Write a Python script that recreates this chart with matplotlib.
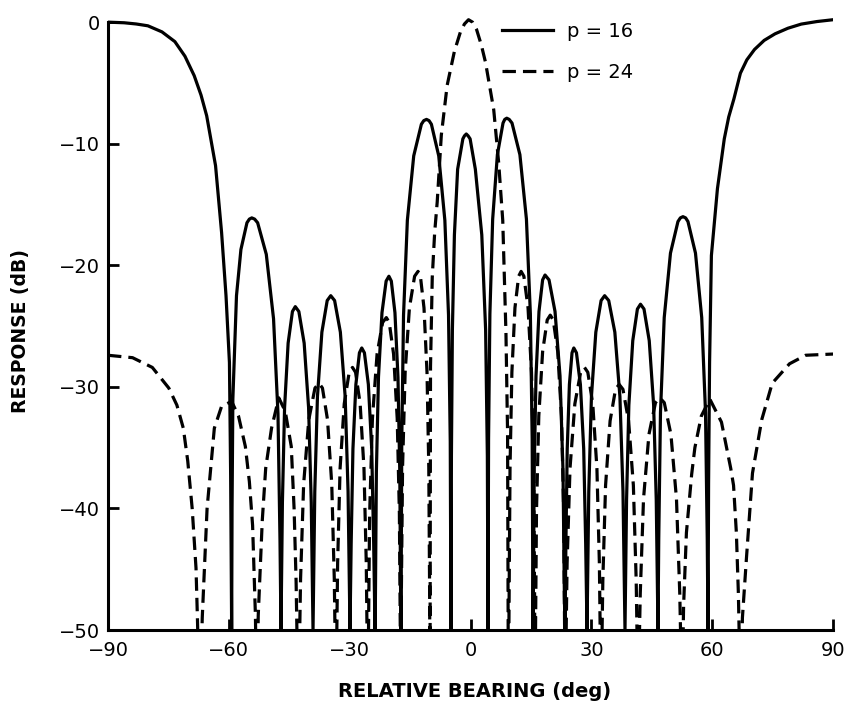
import numpy as np
import matplotlib.pyplot as plt

# Axis ticks and legend labels
bearing_ticks = [-90, -60, -30, 0, 30, 60, 90]
response_ticks = [0, -10, -20, -30, -40, -50]
series_labels = ['p = 16', 'p = 24']

# Beam pattern: (relative bearing deg, response dB)
# p = 16 (solid)
p16 = np.array([
    (-90.0, 0.0), (-86.0, -0.05), (-83.0, -0.15), (-80.1, -0.3), (-76.6, -0.8), (-73.4, -1.6),
    (-70.9, -2.8), (-68.6, -4.4), (-66.9, -6.0), (-65.5, -7.7),
    (-63.3, -11.8), (-61.8, -17.3), (-60.7, -22.5), (-59.85, -28.0), (-59.55, -37.3), (-59.3, -50.0),
    (-59.2, -40.0), (-59.0, -31.0), (-58.1, -22.5), (-57.0, -18.7), (-55.5, -16.5), (-54.9, -16.2),
    (-54.3, -16.1), (-53.6, -16.2),
    (-52.85, -16.5), (-50.7, -19.1), (-48.9, -24.4), (-47.8, -32.2), (-47.3, -42.6), (-47.05, -50.0),
    (-46.7, -39.5), (-46.16, -31.7), (-45.28, -26.4), (-44.21, -23.8), (-43.5, -23.4),
    (-42.62, -23.8), (-41.3, -26.4), (-40.2, -31.7), (-39.54, -39.5), (-39.1, -50.0),
    (-38.66, -38.6), (-38.0, -30.8), (-36.9, -25.5), (-35.58, -22.9), (-34.7, -22.5),
    (-33.74, -22.9), (-32.31, -25.5), (-31.12, -30.8), (-30.4, -38.6), (-29.92, -50.0),
    (-29.63, -42.9), (-29.19, -35.1), (-28.46, -29.8), (-27.58, -27.2), (-27.0, -26.8),
    (-26.34, -27.2), (-25.36, -29.8), (-24.53, -35.1), (-24.04, -42.9), (-23.71, -50.0),
    (-23.61, -47.4), (-23.37, -37.0), (-22.85, -29.2), (-21.98, -23.9), (-20.95, -21.3), (-20.26, -20.9),
    (-19.66, -21.3), (-18.76, -23.9), (-18.01, -29.2), (-17.56, -37.0), (-17.35, -47.4), (-17.26, -50.0),
    (-17.07, -34.5), (-16.63, -24.1), (-15.68, -16.3), (-14.1, -11.0), (-12.2, -8.4), (-11.6, -8.1),
    (-10.93, -8.0), (-10.3, -8.1),
    (-9.71, -8.4), (-7.89, -11.0), (-6.37, -16.3), (-5.46, -24.1), (-5.03, -34.5), (-4.85, -50.0),
    (-4.74, -35.7), (-4.5, -25.3), (-4.0, -17.5), (-3.2, -12.1), (-1.9, -9.6), (-1.5, -9.35),
    (-1.05, -9.2), (-0.6, -9.35),
    (-0.1, -9.6), (1.2, -12.1), (2.8, -17.5), (3.75, -25.3), (4.18, -35.7), (4.34, -50.0),
    (4.48, -34.3), (4.81, -24.0), (5.5, -16.2), (6.67, -10.9), (8.07, -8.3), (8.5, -8.0),
    (9.0, -7.9), (9.6, -8.0),
    (10.3, -8.3), (12.26, -10.9), (13.88, -16.2), (14.86, -24.0), (15.31, -34.3), (15.51, -50.0),
    (15.6, -47.3), (15.81, -36.9), (16.26, -29.1), (17.0, -23.8), (17.9, -21.2), (18.5, -20.8),
    (19.49, -21.2), (20.98, -23.8), (22.22, -29.1), (22.96, -36.9), (23.31, -47.3), (23.46, -50.0),
    (23.68, -42.9), (24.01, -35.1), (24.55, -29.8), (25.2, -27.2), (25.64, -26.8),
    (26.3, -27.2), (27.28, -29.8), (28.1, -35.1), (28.59, -42.9), (28.92, -50.0),
    (29.36, -38.6), (30.02, -30.8), (31.11, -25.5), (32.42, -22.9), (33.3, -22.5),
    (34.31, -22.9), (35.83, -25.5), (37.09, -30.8), (37.85, -38.6), (38.35, -50.0),
    (38.74, -39.3), (39.31, -31.5), (40.28, -26.2), (41.43, -23.6), (42.2, -23.2),
    (43.07, -23.6), (44.37, -26.2), (45.46, -31.5), (46.11, -39.3), (46.54, -50.0),
    (46.73, -42.5), (47.16, -32.1), (48.09, -24.3), (49.64, -19.0), (51.5, -16.4), (52.1, -16.1),
    (52.74, -16.0), (53.4, -16.1),
    (53.98, -16.4), (55.85, -19.0), (57.4, -24.3), (58.34, -32.1), (58.77, -42.5), (58.96, -50.0),
    (59.1, -38.0), (59.35, -28.0), (59.8, -19.2), (61.3, -13.7), (63.0, -9.6), (64.1, -7.8),
    (65.4, -6.3), (67.0, -4.2), (68.6, -3.1), (70.5, -2.25), (72.9, -1.5), (75.6, -0.96),
    (78.8, -0.5), (82.1, -0.16), (86.0, 0.05), (90.0, 0.2),
])

# p = 24 (dashed); nulls fall below the -50 dB floor
p24 = np.array([
    (-90.0, -27.4), (-83.9, -27.6), (-79.0, -28.4), (-74.9, -30.1), (-72.9, -31.5), (-71.3, -33.4),
    (-70.2, -36.1), (-69.1, -40.0), (-68.15, -44.9), (-67.8, -49.0), (-67.2, -57.0),
    (-66.6, -49.0), (-65.4, -40.0), (-64.5, -36.7), (-63.6, -33.4), (-61.8, -31.6), (-59.3, -31.2),
    (-57.6, -32.4), (-55.9, -34.9), (-54.9, -37.8), (-54.1, -41.4), (-53.4, -48.8), (-53.05, -57.0),
    (-52.7, -48.8), (-51.7, -41.0), (-50.85, -36.7), (-49.4, -33.4), (-47.6, -30.9),
    (-46.0, -32.0), (-44.5, -34.9), (-43.8, -40.0), (-43.3, -46.0), (-42.75, -57.0),
    (-42.19, -45.8), (-41.43, -38.0), (-40.15, -32.7), (-38.62, -30.1), (-37.6, -29.7),
    (-36.76, -30.1), (-35.5, -32.7), (-34.45, -38.0), (-33.82, -45.8), (-33.4, -56.0),
    (-32.99, -44.5), (-32.38, -36.7), (-31.35, -31.4), (-30.12, -28.8), (-29.3, -28.4),
    (-28.54, -28.8), (-27.4, -31.4), (-26.45, -36.7), (-25.88, -44.5), (-25.5, -56.0),
    (-25.04, -40.4), (-24.35, -32.6), (-23.2, -27.3), (-21.82, -24.7), (-20.9, -24.3),
    (-20.18, -24.7), (-19.1, -27.3), (-18.2, -32.6), (-17.66, -40.4), (-17.3, -56.0),
    (-17.17, -47.0), (-16.87, -36.6), (-16.23, -28.8), (-15.17, -23.5), (-13.88, -20.9), (-13.03, -20.5),
    (-12.44, -20.9), (-11.55, -23.5), (-10.8, -28.8), (-10.36, -36.6), (-10.15, -47.0), (-10.06, -56.0),
    (-9.98, -40.0), (-9.93, -28.3), (-9.5, -21.0), (-8.9, -17.3), (-8.27, -14.8), (-7.25, -9.3),
    (-5.8, -5.2), (-4.0, -2.4), (-2.5, -0.8), (-1.5, -0.15), (-0.5, 0.2), (0.5, 0.0), (1.5, -0.6),
    (2.7, -1.9), (3.72, -3.3),
    (5.76, -7.2), (7.0, -11.6), (8.0, -16.3), (8.8, -25.6), (9.2, -33.8), (9.4, -56.0),
    (9.59, -47.0), (9.81, -36.6), (10.27, -28.8), (11.03, -23.5), (11.95, -20.9), (12.56, -20.5),
    (13.25, -20.9), (14.28, -23.5), (15.14, -28.8), (15.66, -36.6), (15.9, -47.0), (16.0, -56.0),
    (16.38, -40.2), (16.95, -32.4), (17.9, -27.1), (19.04, -24.5), (19.8, -24.1),
    (20.54, -24.5), (21.65, -27.1), (22.58, -32.4), (23.13, -40.2), (23.5, -56.0),
    (23.98, -44.5), (24.7, -36.7), (25.9, -31.4), (27.34, -28.8), (28.3, -28.4),
    (29.12, -28.8), (30.35, -31.4), (31.38, -36.7), (31.99, -44.5), (32.4, -56.0),
    (32.85, -45.9), (33.53, -38.1), (34.65, -32.8), (36.0, -30.2), (36.9, -29.8),
    (37.84, -30.2), (39.25, -32.8), (40.43, -38.1), (41.13, -45.9), (41.6, -56.0),
    (42.14, -47.0), (42.95, -39.2), (44.3, -33.9), (45.92, -31.3), (47.0, -30.9),
    (48.1, -31.3), (49.75, -33.9), (51.13, -39.2), (51.95, -47.0), (52.5, -56.0),
    (52.9, -48.0), (53.6, -42.0), (54.9, -37.2), (55.7, -35.0), (57.3, -32.4), (59.4, -31.0),
    (62.3, -32.9), (64.6, -36.7), (65.3, -38.1), (66.0, -42.0), (66.5, -47.0), (67.1, -57.0),
    (67.5, -49.0), (68.5, -44.1), (70.0, -37.1), (72.3, -32.7), (74.9, -29.7), (79.2, -28.1),
    (83.2, -27.4), (90.0, -27.3),
])

fig = plt.figure(figsize=(8.49, 7.04), dpi=100)
ax = fig.add_axes([0.1272, 0.1051, 0.854, 0.8807])

line24, = ax.plot(p24[:, 0], p24[:, 1], color='black', lw=2.3, dashes=(4.2, 2.2),
                  label=series_labels[1], zorder=2)
line16, = ax.plot(p16[:, 0], p16[:, 1], color='black', lw=2.3, solid_joinstyle='round',
                  label=series_labels[0], zorder=3)

ax.set_xlim(-90, 90)
ax.set_ylim(-50, 1.0)
ax.set_xticks(bearing_ticks)
ax.set_yticks(response_ticks)

for side in ['top', 'right']:
    ax.spines[side].set_visible(False)
ax.spines['left'].set_bounds(-50, 0)
ax.spines['left'].set_linewidth(2.2)
ax.spines['bottom'].set_linewidth(2.2)

ax.tick_params(axis='both', direction='in', length=8, width=2, labelsize=14)
ax.tick_params(axis='y', pad=6)
ax.tick_params(axis='x', pad=8)

ax.legend(handles=[line16, line24], loc='upper left', bbox_to_anchor=(0.5913, 0.9692),
          bbox_transform=fig.transFigure, frameon=False, fontsize=14,
          handlelength=2.63, handletextpad=0.72, labelspacing=1.15,
          borderpad=0, borderaxespad=0)

fig.text(0.5595, 0.0095, 'RELATIVE BEARING (deg)', ha='center', va='baseline',
         fontsize=14, fontweight='bold')
fig.text(0.0247, 0.5298, 'RESPONSE (dB)', rotation=90, ha='center', va='center',
         fontsize=13.5, fontweight='bold')

fig.savefig('out.png', dpi=100)
plt.close(fig)
